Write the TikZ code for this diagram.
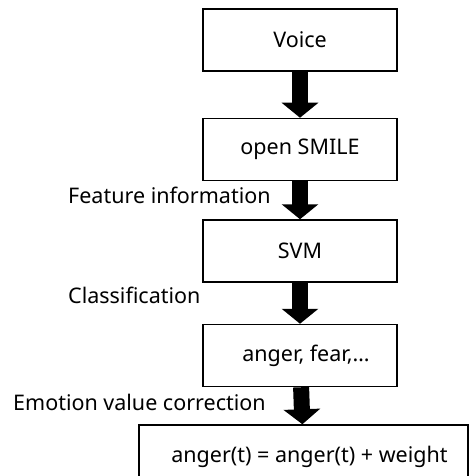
\documentclass[tikz,border=0pt]{standalone}
\usepackage{fontspec}
\setmainfont{Noto Sans}
\usetikzlibrary{positioning, arrows.meta}
\tikzstyle{block} = [rectangle, minimum width=194pt, minimum height=62pt, text centered, draw=black, line width=1.5pt]
\tikzstyle{arrow} = [line width=16pt, -{Triangle[width=36pt,length=15pt]}]
\tikzstyle{lbl} = [anchor=west, inner sep=0pt]

\begin{document}
\begin{tikzpicture}[x=1pt, y=-1pt, font=\fontsize{21.5}{25}\selectfont]
\useasboundingbox (0,0) rectangle (470,476);
\node (voice) [block] at (300,40) {Voice};
\node (opensmile) [block, below=46pt of voice] {open SMILE};
\node (svm) [block, below=38pt of opensmile] {SVM};
\node (emotions) [block, below=41pt of svm] {\hspace*{12pt}anger, fear,…};
\node (correction) [block, minimum width=329pt, minimum height=64pt, below=37pt of emotions, xshift=3.5pt] {\hspace*{12pt}anger(t) = anger(t) + weight};
\node (featinfo) [lbl] at (68,195) {Feature information};
\node (classif) [lbl] at (68,295) {Classification};
\node (emocorr) [lbl] at (13,402) {Emotion value correction};
\draw [arrow] (voice) -- (opensmile);
\draw [arrow] (opensmile) -- (svm);
\draw [arrow] (svm) -- (emotions);
\draw [arrow] (emotions) -- (correction);
\end{tikzpicture}
\end{document}
